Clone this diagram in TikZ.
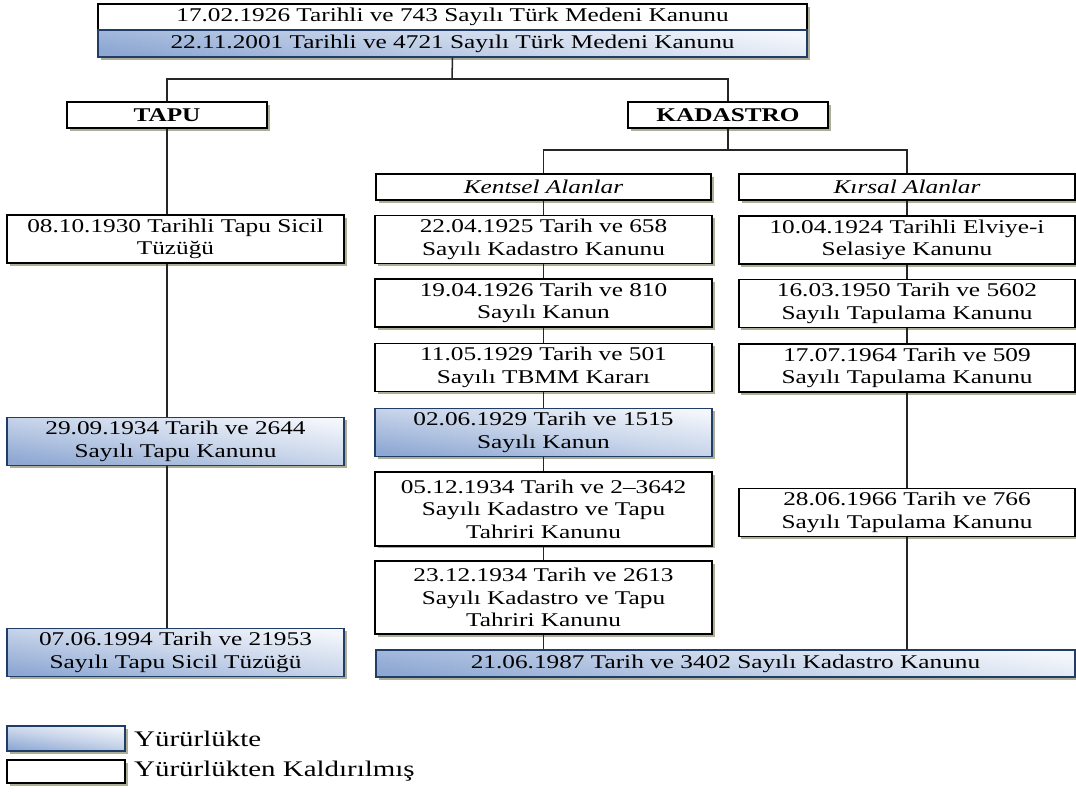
\documentclass[tikz,border=0pt]{standalone}
\usepackage{fontspec}
\setmainfont{Liberation Serif}[FakeStretch=1.3]
\usepackage{tikz}
\usetikzlibrary{positioning, calc, shadows}
\definecolor{kanunmavi}{HTML}{8EA8D3}
\definecolor{kanunacik}{HTML}{F3F6FB}
\definecolor{kanuncizgi}{HTML}{1F3D66}
\definecolor{golge}{HTML}{8C8C6A}
\newcommand{\kanunfont}{\fontsize{8.3}{9.6}\selectfont}

\begin{document}
\begin{tikzpicture}[x=0.015cm, y=-0.015cm,
        kutu/.style={rectangle, draw=black, line width=0.8pt, fill=white, align=center, inner sep=1pt,
            minimum width=5.05cm, minimum height=0.72cm, font=\kanunfont,
            drop shadow={shadow xshift=1.2pt, shadow yshift=-1.2pt, fill=golge, opacity=0.7}},
        yururde/.style={draw=kanuncizgi, top color=kanunacik, bottom color=kanunmavi, middle color=kanunacik!55!kanunmavi, shading angle=-8},
        baslik/.style={kutu, minimum width=3cm, minimum height=0.39cm, font=\kanunfont\bfseries},
        alan/.style={kutu, minimum width=5.03cm, minimum height=0.39cm, font=\kanunfont\itshape},
        hat/.style={draw=black!85, line width=0.65pt}]

        \useasboundingbox (0,0) rectangle (1076,791);

        % Medeni Kanun
        \node[kutu, minimum width=10.63cm, minimum height=0.39cm] (mk1) at (452.5,17) {17.02.1926 Tarihli ve 743 Sayılı Türk Medeni Kanunu};
        \node[kutu, yururde, minimum width=10.63cm, minimum height=0.4cm] (mk2) at (452.5,43.5) {22.11.2001 Tarihli ve 4721 Sayılı Türk Medeni Kanunu};

        \node[baslik] (tapu) at (167,115) {TAPU};
        \node[baslik] (kad) at (728,115) {KADASTRO};

        % Tapu
        \node[kutu] (t1) at (175.5,239) {08.10.1930 Tarihli Tapu Sicil\\Tüzüğü};
        \node[kutu, yururde] (t2) at (175.5,441.5) {29.09.1934 Tarih ve 2644\\Sayılı Tapu Kanunu};
        \node[kutu, yururde] (t3) at (175.5,652.5) {07.06.1994 Tarih ve 21953\\Sayılı Tapu Sicil Tüzüğü};

        % Kadastro: Kentsel Alanlar
        \node[alan] (kent) at (543.5,187) {Kentsel Alanlar};
        \node[kutu] (k1) at (543.5,239.5) {22.04.1925 Tarih ve 658\\Sayılı Kadastro Kanunu};
        \node[kutu] (k2) at (543.5,303) {19.04.1926 Tarih ve 810\\Sayılı Kanun};
        \node[kutu] (k3) at (543.5,367.5) {11.05.1929 Tarih ve 501\\Sayılı TBMM Kararı};
        \node[kutu, yururde] (k4) at (543.5,432.5) {02.06.1929 Tarih ve 1515\\Sayılı Kanun};
        \node[kutu, minimum height=1.1cm] (k5) at (543.5,509) {05.12.1934 Tarih ve 2--3642\\Sayılı Kadastro ve Tapu\\Tahriri Kanunu};
        \node[kutu, minimum height=1.1cm] (k6) at (543.5,597.5) {23.12.1934 Tarih ve 2613\\Sayılı Kadastro ve Tapu\\Tahriri Kanunu};

        % Kadastro: Kirsal Alanlar
        \node[alan] (kir) at (907,187) {Kırsal Alanlar};
        \node[kutu] (r1) at (907,240) {10.04.1924 Tarihli Elviye-i\\Selasiye Kanunu};
        \node[kutu] (r2) at (907,303.5) {16.03.1950 Tarih ve 5602\\Sayılı Tapulama Kanunu};
        \node[kutu] (r3) at (907,368) {17.07.1964 Tarih ve 509\\Sayılı Tapulama Kanunu};
        \node[kutu] (r4) at (907,512.5) {28.06.1966 Tarih ve 766\\Sayılı Tapulama Kanunu};

        \node[kutu, yururde, minimum width=10.49cm, minimum height=0.4cm] (kk) at (725.5,663.5) {21.06.1987 Tarih ve 3402 Sayılı Kadastro Kanunu};

        % Baglantilar
        \coordinate (ayrim1) at (452,79);
        \coordinate (ayrim2) at (728,150);
        \draw[hat] (mk2.south) -- (ayrim1) -| (tapu.north);
        \draw[hat] (ayrim1) -| (kad.north);
        \draw[hat] (kad.south) -- (ayrim2) -| (kent.north);
        \draw[hat] (ayrim2) -| (kir.north);
        \draw[hat] (tapu.south) -- (tapu.south |- t1.north);
        \draw[hat] (tapu.south |- t1.south) -- (tapu.south |- t2.north);
        \draw[hat] (tapu.south |- t2.south) -- (tapu.south |- t3.north);
        \draw[hat] (kent.south) -- (k1.north);
        \draw[hat] (k1.south) -- (k2.north);
        \draw[hat] (k2.south) -- (k3.north);
        \draw[hat] (k3.south) -- (k4.north);
        \draw[hat] (k4.south) -- (k5.north);
        \draw[hat] (k5.south) -- (k6.north);
        \draw[hat] (k6.south) -- (k6.south |- kk.north);
        \draw[hat] (kir.south) -- (r1.north);
        \draw[hat] (r1.south) -- (r2.north);
        \draw[hat] (r2.south) -- (r3.north);
        \draw[hat] (r3.south) -- (r4.north);
        \draw[hat] (r4.south) -- (r4.south |- kk.north);

        % Lejant
        \node[kutu, yururde, minimum width=1.77cm, minimum height=0.38cm] (lej1) at (66,738.5) {};
        \node[kutu, minimum width=1.77cm, minimum height=0.34cm] (lej2) at (66,771.5) {};
        \node[font=\fontsize{9.5}{11}\selectfont, right=0cm of lej1] (lejy1) {Yürürlükte};
        \node[font=\fontsize{9.5}{11}\selectfont, right=0cm of lej2] (lejy2) {Yürürlükten Kaldırılmış};
    \end{tikzpicture}
\end{document}
